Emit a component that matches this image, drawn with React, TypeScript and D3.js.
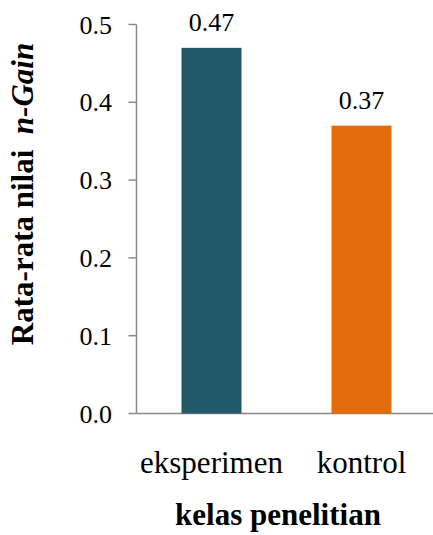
import React, { useRef, useEffect } from 'react';
import * as d3 from 'd3';

const categories = ['eksperimen', 'kontrol'];
const values = [0.47, 0.37];
const valueLabels = ['0.47', '0.37'];
const yTicks = [0, 0.1, 0.2, 0.3, 0.4, 0.5];
const barColors = ['#215968', '#e46c0a'];

const App = () => {
  const svgRef = useRef<SVGSVGElement>(null);
  const width = 433;
  const height = 535;

  useEffect(() => {
    const svg = d3.select(svgRef.current)
      .attr('width', width)
      .attr('height', height)
      .style('font-family', "'Liberation Serif', 'Times New Roman', Times, serif")
      .html('');

    const axisColor = '#898989';

    // --- Scales ---
    const x = d3.scaleBand<string>()
      .domain(categories)
      .range([136.5, 436.5])
      .paddingInner(0.6)
      .paddingOuter(0.3);

    const y = d3.scaleLinear().domain([0, 0.5]).range([413.5, 24.5]);

    // --- Axes ---
    svg.append('line')
      .attr('x1', 136.5).attr('x2', 136.5)
      .attr('y1', y(0.5)).attr('y2', y(0))
      .attr('stroke', axisColor).attr('stroke-width', 1.5);

    svg.append('line')
      .attr('x1', 136.5).attr('x2', width)
      .attr('y1', y(0)).attr('y2', y(0))
      .attr('stroke', axisColor).attr('stroke-width', 1.5);

    const tick = svg.selectAll('.tick')
      .data(yTicks)
      .enter()
      .append('g')
      .attr('class', 'tick');

    tick.append('line')
      .attr('x1', 128.5).attr('x2', 136.5)
      .attr('y1', d => y(d)).attr('y2', d => y(d))
      .attr('stroke', axisColor).attr('stroke-width', 1.5);

    tick.append('text')
      .attr('x', 112)
      .attr('y', d => y(d) + 9)
      .attr('text-anchor', 'end')
      .style('font-size', '26px')
      .attr('fill', '#000')
      .text(d => d.toFixed(1));

    // --- Bars ---
    svg.selectAll('.bar')
      .data(values)
      .enter()
      .append('rect')
      .attr('class', 'bar')
      .attr('x', (d, i) => x(categories[i])!)
      .attr('y', d => y(d))
      .attr('width', x.bandwidth())
      .attr('height', d => y(0) - y(d))
      .attr('fill', (d, i) => barColors[i]);

    // value labels
    svg.selectAll('.val')
      .data(values)
      .enter()
      .append('text')
      .attr('class', 'val')
      .attr('x', (d, i) => x(categories[i])! + x.bandwidth() / 2)
      .attr('y', d => y(d) - 16.5)
      .attr('text-anchor', 'middle')
      .style('font-size', '26px')
      .text((d, i) => valueLabels[i]);

    // category labels
    svg.selectAll('.cat')
      .data(categories)
      .enter()
      .append('text')
      .attr('class', 'cat')
      .attr('x', d => x(d)! + x.bandwidth() / 2)
      .attr('y', 473)
      .attr('text-anchor', 'middle')
      .style('font-size', '31px')
      .text(d => d);

    // --- Axis titles ---
    svg.append('text')
      .attr('x', 278)
      .attr('y', 525)
      .attr('text-anchor', 'middle')
      .style('font-size', '31px')
      .style('font-weight', 'bold')
      .text('kelas penelitian');

    const yTitle = svg.append('text')
      .attr('transform', 'translate(33,194) rotate(-90)')
      .attr('text-anchor', 'middle')
      .style('font-size', '31px')
      .style('font-weight', 'bold')
      .style('white-space', 'pre');
    yTitle.append('tspan').text('Rata-rata nilai  ');
    yTitle.append('tspan').style('font-style', 'italic').text('n-Gain');
  }, []);

  return (
    <div style={{ position: 'fixed', left: 0, top: 0, background: '#fff' }}>
      <svg ref={svgRef} style={{ display: 'block' }}></svg>
    </div>
  );
};

export default App;
